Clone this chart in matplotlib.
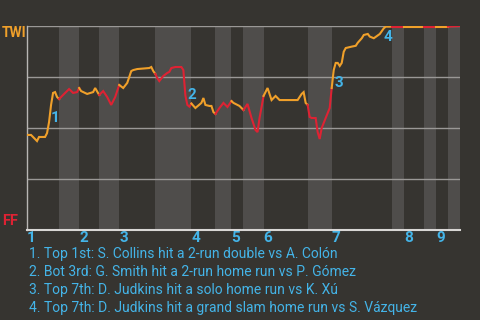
import matplotlib
matplotlib.use("Agg")
import matplotlib.pyplot as plt
import numpy as np

# ---- data ----
half_bounds = [0, 16, 26, 36, 46, 64, 82, 94, 102, 108, 118, 140, 152, 182, 188, 198, 204, 210, 216]
inning_labels = ["1", "2", "3", "4", "5", "6", "7", "8", "9"]

pitch = [0, 2, 5, 6, 9, 10, 11, 12, 13, 14, 15, 16, 18, 21, 23, 25, 26, 27, 30, 33, 34, 36,
         38, 40, 42, 44, 46, 48, 50, 51, 52, 53, 55, 61, 62, 63, 64, 65, 66, 68, 70, 71, 72,
         74, 77, 78, 79, 80, 81, 82, 84, 87, 88, 89, 91, 92, 93, 94, 96, 98, 100, 102, 103,
         105, 106, 108, 110, 112, 114, 115, 116, 118, 120, 122, 124, 126, 135, 137, 138, 139,
         140, 141, 142, 144, 145, 146, 147, 149, 151, 152, 153, 154, 155, 156, 157, 158, 159,
         162, 164, 165, 167, 168, 170, 171, 173, 176, 178, 179, 182, 188, 198, 204, 210, 216]
win_prob = [46.6, 46.6, 43.6, 45.6, 45.6, 47.5, 52.9, 61.3, 67.2, 67.6, 65.2, 64.2, 66.2, 69.1,
            67.2, 67.6, 69.6, 68.1, 66.7, 67.6, 69.6, 66.2, 68.1, 65.2, 61.3, 65.2, 71.1, 69.6,
            72.1, 75.0, 77.9, 78.4, 78.9, 79.4, 79.9, 77.9, 76.5, 74.5, 73.0, 75.5, 77.0, 77.5,
            79.4, 79.9, 79.9, 78.4, 66.0, 61.3, 60.5, 62.0, 59.8, 62.3, 64.7, 61.3, 60.8, 60.8,
            57.8, 56.9, 59.8, 62.3, 60.3, 63.2, 62.3, 61.3, 60.8, 58.8, 61.8, 54.9, 49.0, 48.0,
            54.9, 65.7, 69.6, 63.7, 65.7, 63.7, 63.7, 66.7, 67.6, 62.3, 61.3, 55.4, 54.9, 54.9,
            48.0, 44.6, 50.0, 54.9, 59.8, 69.6, 78.4, 81.9, 81.9, 80.4, 81.9, 87.4, 89.2, 89.9,
            90.3, 91.8, 94.0, 95.6, 96.1, 94.8, 94.0, 96.1, 98.9, 99.7, 99.7, 99.7, 99.7, 99.7,
            99.7, 100.0]

event_ids = ["1", "2", "3", "4"]
event_pitch = [12, 80, 153, 178]
event_offsets = [(3, -9.5), (3, 7), (3.6, -9.5), (3, -6.5)]
event_texts = [
    "1. Top 1st: S. Collins hit a 2-run double vs A. Colón",
    "2. Bot 3rd: G. Smith hit a 2-run home run vs P. Gómez",
    "3. Top 7th: D. Judkins hit a solo home run vs K. Xú",
    "4. Top 7th: D. Judkins hit a grand slam home run vs S. Vázquez",
]

# ---- style ----
BG = "#363430"
BAND = "#4f4d4b"
ORANGE = "#f0a02a"
RED = "#de2233"
BLUE = "#44b4e8"
GRID = "#9a9896"
FONT = "Roboto"

fig = plt.figure(figsize=(4.8, 3.2), dpi=100, facecolor=BG)
ax = fig.add_axes([27 / 480, 90 / 320, 433 / 480, 204 / 320])
ax.set_facecolor(BG)
ax.set_xlim(half_bounds[0], half_bounds[-1])
ax.set_ylim(0, 100)

# half-inning bands (bottom halves lighter)
for i in range(len(half_bounds) - 1):
    if i % 2 == 1:
        ax.axvspan(half_bounds[i], half_bounds[i + 1], color=BAND, lw=0, zorder=0)

# grid lines
for g in [25, 50, 75, 100]:
    ax.axhline(g, color=GRID, lw=1.0, zorder=1)

# win probability line, coloured by half inning
p = np.array(pitch)
w = np.array(win_prob)
for i in range(len(half_bounds) - 1):
    m = (p >= half_bounds[i]) & (p <= half_bounds[i + 1])
    ax.plot(p[m], w[m], color=ORANGE if i % 2 == 0 else RED, lw=1.5,
            solid_joinstyle="miter", zorder=3)

# event markers
for eid, ep, off in zip(event_ids, event_pitch, event_offsets):
    ax.annotate(eid, xy=(ep, w[p == ep][0]), xytext=off, textcoords="offset points",
                ha="center", va="center", color=BLUE, fontsize=11, fontweight="bold",
                family=FONT, zorder=4)

# spines / ticks
for s in ["top", "right"]:
    ax.spines[s].set_visible(False)
ax.spines["left"].set_color("#b8b6b4")
ax.spines["left"].set_linewidth(1.0)
ax.spines["bottom"].set_color("#d8d6d4")
ax.spines["bottom"].set_linewidth(1.5)
ax.set_yticks([])
ax.set_xticks(half_bounds[0:-1:2])
ax.set_xticklabels(inning_labels, color=BLUE, fontsize=11, fontweight="bold",
                   family=FONT, ha="left")
ax.tick_params(axis="x", length=0, pad=1.0)

# team labels
fig.text(2 / 480, 1 - 33 / 320, "TWI", color=ORANGE, fontsize=10, fontweight="bold",
         family=FONT, ha="left", va="center")
fig.text(2 / 480, 1 - 221 / 320, "FF", color=RED, fontsize=10.5, fontweight="bold",
         family=FONT, ha="left", va="center")

# event descriptions
for k, t in enumerate(event_texts):
    fig.text(29 / 480, 1 - (254 + 18 * k) / 320, t, color=BLUE, fontsize=10,
             family=FONT, ha="left", va="center")

fig.savefig("out.png", dpi=100, facecolor=BG)
